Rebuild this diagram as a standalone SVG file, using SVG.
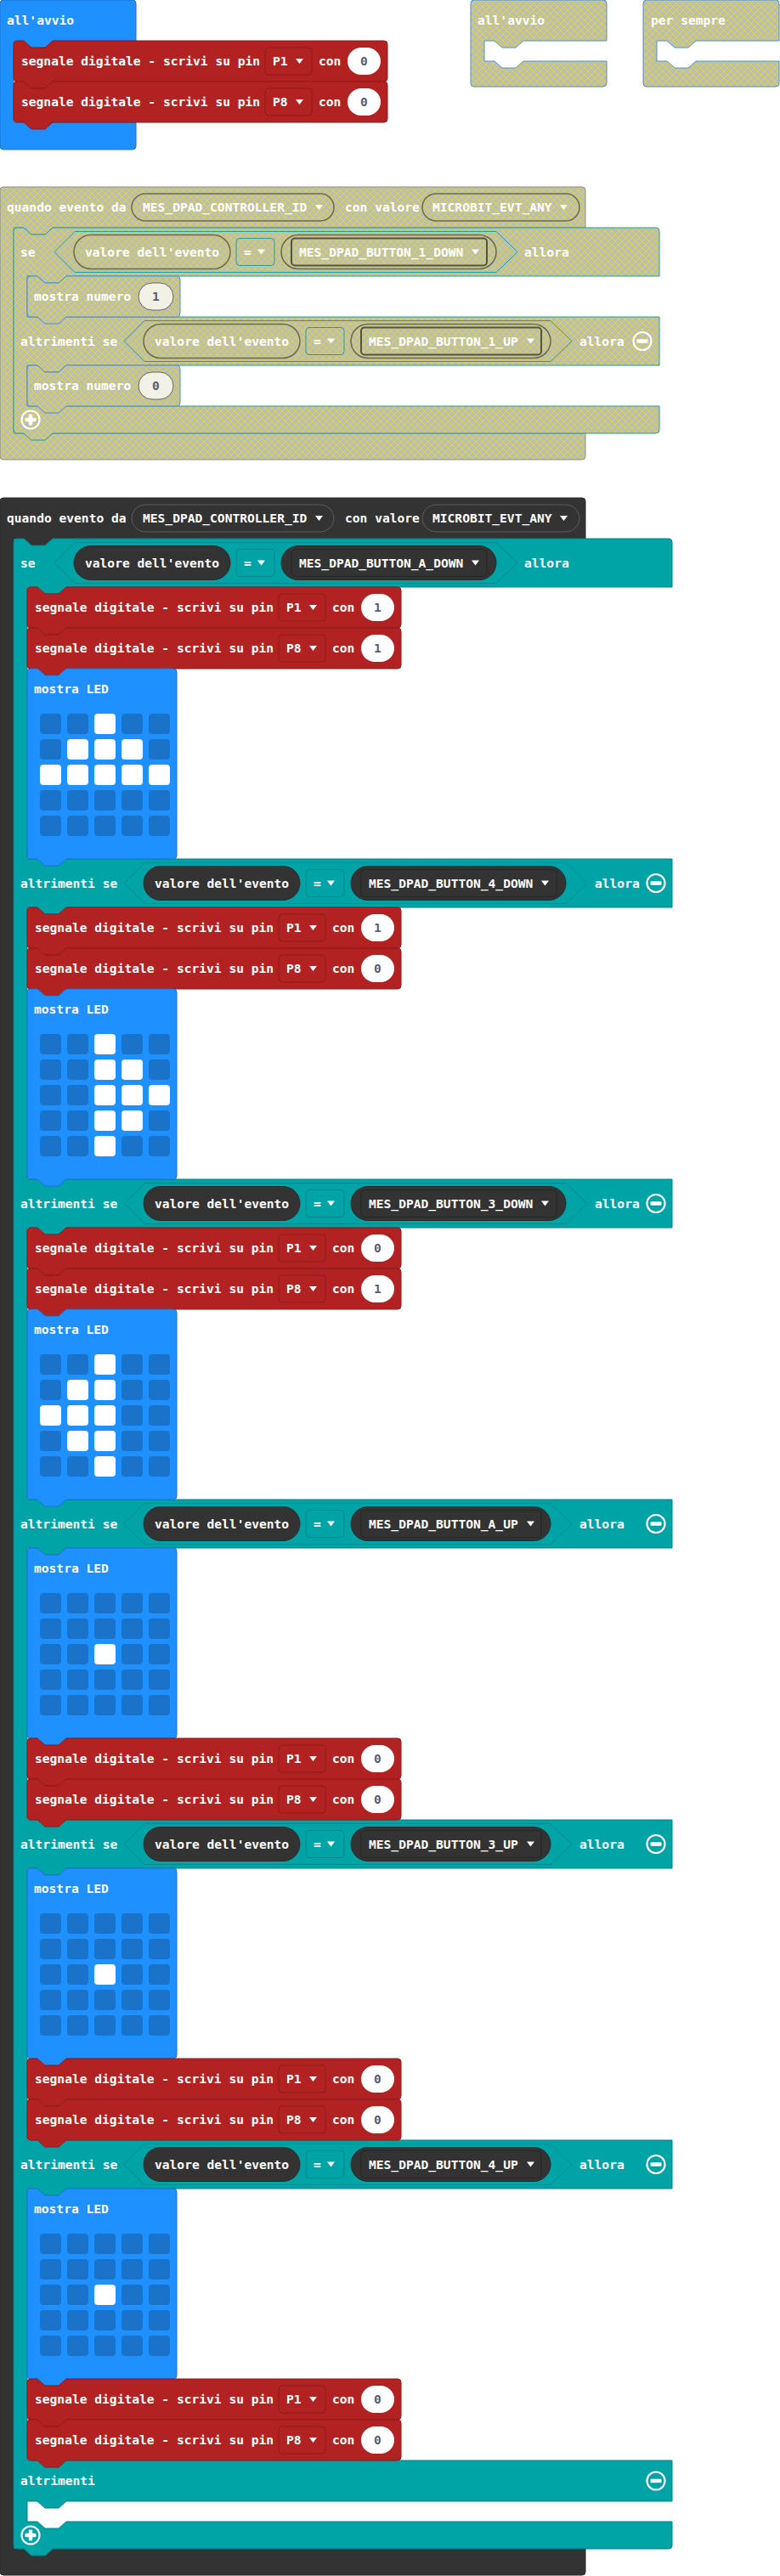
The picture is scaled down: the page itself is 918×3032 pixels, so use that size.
<svg xmlns="http://www.w3.org/2000/svg" xmlns:xlink="http://www.w3.org/1999/xlink" width="918" height="3032" viewBox="0 0 918 3032">
<style>
.t{font-family:"DejaVu Sans Mono","Liberation Mono",monospace;font-weight:bold;font-size:14.6px;fill:#fff}
.num{font-family:"DejaVu Sans Mono","Liberation Mono",monospace;font-weight:bold;font-size:14.6px;fill:#575e75;text-anchor:middle}
.hex{fill:#00a4a6;stroke:#008a8d;stroke-width:1}
.dpill{fill:#333;stroke:#2a2a2a}
.hpill{fill:#333;stroke:#5e5e5e}
.inner{fill:#333;stroke:#262626}
.eq{fill:#00a4a6;stroke:#00878a}
.rdd{fill:#b22222;stroke:#8e1b1b}
.oval{fill:#fff}
.off{fill:#1a72c9}
.on{fill:#fff}
.xhex{fill:url(#dis);stroke:#1a9e9e}
.xpill{fill:url(#dis);stroke:#6a6a4e;stroke-width:1.5}
.xinner{fill:url(#dis);stroke:#55553c;stroke-width:2}
.xeq{fill:url(#dis);stroke:#2a9a9a}
.xoval{fill:#f1f1e6;stroke:#666}
.arrow{fill:#fff}
</style>
<defs>
<pattern id="dis" width="8" height="8" patternUnits="userSpaceOnUse">
<rect width="8" height="8" fill="#bdbdb2"/>
<path d="M0,0 L8,8 M8,0 L0,8" stroke="#d8d83a" stroke-width="1"/>
</pattern>
<path id="redblk" d="M0,4 Q0,0 4,0 H12 l9,8 h16 l9,-8 H436 Q440,0 440,4 V44 Q440,48 436,48 H46 l-9,8 h-16 l-9,-8 H4 Q0,48 0,44 Z" fill="#b22222" stroke="#8e1b1b"/>
<path id="ledblk" d="M0,4 Q0,0 4,0 H12 l9,8 h16 l9,-8 H172 Q176,0 176,4 V220 Q176,224 172,224 H46 l-9,8 h-16 l-9,-8 H4 Q0,224 0,220 Z" fill="#1e90ff" stroke="#1873cc"/>
<path id="numblk" d="M0,4 Q0,0 4,0 H12 l9,8 h16 l9,-8 H176 Q180,0 180,4 V44 Q180,48 176,48 H46 l-9,8 h-16 l-9,-8 H4 Q0,48 0,44 Z" fill="url(#dis)" stroke="#4a8fd6"/>
<path id="arr" d="M0,0 h9 l-4.5,6 z" fill="#fff"/>
<g id="ledgrid" class="off">
<rect x="15" y="53" width="25" height="24" rx="4"/><rect x="47" y="53" width="25" height="24" rx="4"/><rect x="79" y="53" width="25" height="24" rx="4"/><rect x="111" y="53" width="25" height="24" rx="4"/><rect x="143" y="53" width="25" height="24" rx="4"/>
<rect x="15" y="83" width="25" height="24" rx="4"/><rect x="47" y="83" width="25" height="24" rx="4"/><rect x="79" y="83" width="25" height="24" rx="4"/><rect x="111" y="83" width="25" height="24" rx="4"/><rect x="143" y="83" width="25" height="24" rx="4"/>
<rect x="15" y="113" width="25" height="24" rx="4"/><rect x="47" y="113" width="25" height="24" rx="4"/><rect x="79" y="113" width="25" height="24" rx="4"/><rect x="111" y="113" width="25" height="24" rx="4"/><rect x="143" y="113" width="25" height="24" rx="4"/>
<rect x="15" y="143" width="25" height="24" rx="4"/><rect x="47" y="143" width="25" height="24" rx="4"/><rect x="79" y="143" width="25" height="24" rx="4"/><rect x="111" y="143" width="25" height="24" rx="4"/><rect x="143" y="143" width="25" height="24" rx="4"/>
<rect x="15" y="173" width="25" height="24" rx="4"/><rect x="47" y="173" width="25" height="24" rx="4"/><rect x="79" y="173" width="25" height="24" rx="4"/><rect x="111" y="173" width="25" height="24" rx="4"/><rect x="143" y="173" width="25" height="24" rx="4"/>
</g>
<g id="minus"><circle r="10.5" fill="none" stroke="#fff" stroke-width="2.2"/><rect x="-6.5" y="-2.2" width="13" height="4.4" rx="1" fill="#fff"/></g>
<g id="plus"><circle r="10.5" fill="none" stroke="#fff" stroke-width="2.2"/><rect x="-6.5" y="-2.2" width="13" height="4.4" rx="1" fill="#fff"/><rect x="-2.2" y="-6.5" width="4.4" height="13" rx="1" fill="#fff"/></g>
</defs>

<g id="connectors"></g>

<!-- all'avvio (enabled) -->
<g id="onstart">
<path d="M4,0 H156 Q160,0 160,4 V48 H62 l-9,8 h-16 l-9,-8 H16 V144 H160 V172 Q160,176 156,176 H4 Q0,176 0,172 V4 Q0,0 4,0 Z" fill="#1e90ff" stroke="#1873cc"/>
<text class="t" x="8" y="29">all'avvio</text>
<g id="onstart-pin1" transform="translate(16,48)">
<use href="#redblk"/>
<text class="t" x="9" y="29">segnale digitale - scrivi su pin</text>
<rect class="rdd" x="296" y="8" width="55" height="32" rx="4"/>
<text class="t" x="305" y="29">P1</text>
<use href="#arr" x="332" y="21"/>
<text class="t" x="359" y="29">con</text>
<rect class="oval" x="393" y="8" width="39" height="32" rx="16"/>
<text class="num" x="412.5" y="29">0</text>
</g>
<g id="onstart-pin8" transform="translate(16,96)">
<use href="#redblk"/>
<text class="t" x="9" y="29">segnale digitale - scrivi su pin</text>
<rect class="rdd" x="296" y="8" width="55" height="32" rx="4"/>
<text class="t" x="305" y="29">P8</text>
<use href="#arr" x="332" y="21"/>
<text class="t" x="359" y="29">con</text>
<rect class="oval" x="393" y="8" width="39" height="32" rx="16"/>
<text class="num" x="412.5" y="29">0</text>
</g>
</g>

<!-- disabled all'avvio -->
<g id="onstart-disabled">
<path d="M558,0 H710 Q714,0 714,4 V48 H616 l-9,8 h-16 l-9,-8 H570 V72 H582 l9,8 h16 l9,-8 H714 V98 Q714,102 710,102 H558 Q554,102 554,98 V4 Q554,0 558,0 Z" fill="url(#dis)" stroke="#4a8fd6"/>
<text class="t" x="562" y="29">all'avvio</text>
</g>

<!-- disabled per sempre -->
<g id="forever-disabled">
<path d="M761,0 H913 Q917,0 917,4 V48 H819 l-9,8 h-16 l-9,-8 H773 V72 H785 l9,8 h16 l9,-8 H917 V98 Q917,102 913,102 H761 Q757,102 757,98 V4 Q757,0 761,0 Z" fill="url(#dis)" stroke="#4a8fd6"/>
<text class="t" x="766" y="29">per sempre</text>
</g>

<!-- disabled event block -->
<g id="event-disabled">
<path d="M4,220 H685 Q689,220 689,224 V268 H62 l-9,8 h-16 l-9,-8 H16 V510 H689 V537 Q689,541 685,541 H4 Q0,541 0,537 V224 Q0,220 4,220 Z" fill="url(#dis)" stroke="#8c8c8c"/>
<text class="t" x="8" y="249">quando evento da</text>
<rect class="xpill" x="155" y="228" width="238" height="32" rx="16"/>
<text class="t" x="168" y="249">MES_DPAD_CONTROLLER_ID</text>
<use href="#arr" x="371" y="241"/>
<text class="t" x="406" y="249">con valore</text>
<rect class="xpill" x="497" y="228" width="185" height="32" rx="16"/>
<text class="t" x="509" y="249">MICROBIT_EVT_ANY</text>
<use href="#arr" x="659" y="241"/>
<g id="if-disabled">
<path d="M16,272 Q16,268 20,268 H28 l9,8 h16 l9,-8 H772 Q776,268 776,272 V325 H78 l-9,8 h-16 l-9,-8 H32 V373 H776 V430 H78 l-9,8 h-16 l-9,-8 H32 V478 H776 V506 Q776,510 772,510 H62 l-9,8 h-16 l-9,-8 H20 Q16,510 16,506 Z" fill="url(#dis)" stroke="#1a9e9e"/>
<g transform="translate(0,296.5)">
<text class="t" x="24" y="5">se</text>
<polygon class="xhex" points="64,0 88,-24 584,-24 609,0 584,24 88,24"/>
<rect class="xpill" x="87" y="-20" width="184" height="40" rx="20"/>
<text class="t" x="100" y="5">valore dell'evento</text>
<rect class="xeq" x="278" y="-16" width="45" height="32" rx="4"/>
<text class="t" x="287" y="5">=</text>
<use href="#arr" x="303" y="-3"/>
<rect class="xpill" x="331" y="-20" width="253" height="40" rx="20"/>
<rect class="xinner" x="343" y="-16" width="230" height="32" rx="4"/>
<text class="t" x="352" y="5">MES_DPAD_BUTTON_1_DOWN</text>
<use href="#arr" x="555" y="-3"/>
<text class="t" x="617" y="5">allora</text>
</g>
<g transform="translate(0,401.5)">
<text class="t" x="24" y="5">altrimenti se</text>
<polygon class="xhex" points="146,0 170,-24 648,-24 673,0 648,24 170,24"/>
<rect class="xpill" x="169" y="-20" width="184" height="40" rx="20"/>
<text class="t" x="182" y="5">valore dell'evento</text>
<rect class="xeq" x="360" y="-16" width="45" height="32" rx="4"/>
<text class="t" x="369" y="5">=</text>
<use href="#arr" x="385" y="-3"/>
<rect class="xpill" x="413" y="-20" width="235" height="40" rx="20"/>
<rect class="xinner" x="425" y="-16" width="212" height="32" rx="4"/>
<text class="t" x="434" y="5">MES_DPAD_BUTTON_1_UP</text>
<use href="#arr" x="620" y="-3"/>
<text class="t" x="682" y="5">allora</text>
<use href="#minus" x="756" y="0"/>
</g>
<use href="#plus" x="36" y="494"/>
<g id="shownum-1" transform="translate(32,325)">
<use href="#numblk"/>
<text class="t" x="8" y="29">mostra numero</text>
<rect class="xoval" x="131" y="8" width="41" height="32" rx="16"/>
<text class="num" x="151.5" y="29">1</text>
</g>
<g id="shownum-0" transform="translate(32,430)">
<use href="#numblk"/>
<text class="t" x="8" y="29">mostra numero</text>
<rect class="xoval" x="131" y="8" width="41" height="32" rx="16"/>
<text class="num" x="151.5" y="29">0</text>
</g>
</g>
</g>

<!-- main event block -->
<g id="event-main">
<path d="M4,586 H685 Q689,586 689,590 V634 H62 l-9,8 h-16 l-9,-8 H16 V3000 H689 V3027 Q689,3031 685,3031 H4 Q0,3031 0,3027 V590 Q0,586 4,586 Z" fill="#333333" stroke="#2a2a2a"/>
<text class="t" x="8" y="615">quando evento da</text>
<rect class="hpill" x="155" y="594" width="238" height="32" rx="16"/>
<text class="t" x="168" y="615">MES_DPAD_CONTROLLER_ID</text>
<use href="#arr" x="371" y="607"/>
<text class="t" x="406" y="615">con valore</text>
<rect class="hpill" x="497" y="594" width="185" height="32" rx="16"/>
<text class="t" x="509" y="615">MICROBIT_EVT_ANY</text>
<use href="#arr" x="659" y="607"/>

<g id="if-main">
<path d="M16,638 Q16,634 20,634 H28 l9,8 h16 l9,-8 H787 Q791,634 791,638 V691 H78 l-9,8 h-16 l-9,-8 H32 V1011 H791 V1068 H78 l-9,8 h-16 l-9,-8 H32 V1388 H791 V1445 H78 l-9,8 h-16 l-9,-8 H32 V1765 H791 V1822 H78 l-9,8 h-16 l-9,-8 H32 V2142 H791 V2199 H78 l-9,8 h-16 l-9,-8 H32 V2519 H791 V2576 H78 l-9,8 h-16 l-9,-8 H32 V2896 H791 V2944 H78 l-9,8 h-16 l-9,-8 H32 V2968 H44 l9,8 h16 l9,-8 H791 V2996 Q791,3000 787,3000 H62 l-9,8 h-16 l-9,-8 H20 Q16,3000 16,2996 Z" fill="#00a4a6" stroke="#008386"/>

<g id="row-a-down" transform="translate(0,662.5)">
<text class="t" x="24" y="5">se</text>
<polygon class="hex" points="64,0 88,-24 584,-24 609,0 584,24 88,24"/>
<rect class="dpill" x="87" y="-20" width="184" height="40" rx="20"/>
<text class="t" x="100" y="5">valore dell'evento</text>
<rect class="eq" x="278" y="-16" width="45" height="32" rx="4"/>
<text class="t" x="287" y="5">=</text>
<use href="#arr" x="303" y="-3"/>
<rect class="dpill" x="331" y="-20" width="253" height="40" rx="20"/>
<rect class="inner" x="343" y="-16" width="230" height="32" rx="4"/>
<text class="t" x="352" y="5">MES_DPAD_BUTTON_A_DOWN</text>
<use href="#arr" x="555" y="-3"/>
<text class="t" x="617" y="5">allora</text>
</g>

<g id="row-4-down" transform="translate(0,1039.5)">
<text class="t" x="24" y="5">altrimenti se</text>
<polygon class="hex" points="146,0 170,-24 666,-24 691,0 666,24 170,24"/>
<rect class="dpill" x="169" y="-20" width="184" height="40" rx="20"/>
<text class="t" x="182" y="5">valore dell'evento</text>
<rect class="eq" x="360" y="-16" width="45" height="32" rx="4"/>
<text class="t" x="369" y="5">=</text>
<use href="#arr" x="385" y="-3"/>
<rect class="dpill" x="413" y="-20" width="253" height="40" rx="20"/>
<rect class="inner" x="425" y="-16" width="230" height="32" rx="4"/>
<text class="t" x="434" y="5">MES_DPAD_BUTTON_4_DOWN</text>
<use href="#arr" x="637" y="-3"/>
<text class="t" x="700" y="5">allora</text>
<use href="#minus" x="772" y="0"/>
</g>

<g id="row-3-down" transform="translate(0,1416.5)">
<text class="t" x="24" y="5">altrimenti se</text>
<polygon class="hex" points="146,0 170,-24 666,-24 691,0 666,24 170,24"/>
<rect class="dpill" x="169" y="-20" width="184" height="40" rx="20"/>
<text class="t" x="182" y="5">valore dell'evento</text>
<rect class="eq" x="360" y="-16" width="45" height="32" rx="4"/>
<text class="t" x="369" y="5">=</text>
<use href="#arr" x="385" y="-3"/>
<rect class="dpill" x="413" y="-20" width="253" height="40" rx="20"/>
<rect class="inner" x="425" y="-16" width="230" height="32" rx="4"/>
<text class="t" x="434" y="5">MES_DPAD_BUTTON_3_DOWN</text>
<use href="#arr" x="637" y="-3"/>
<text class="t" x="700" y="5">allora</text>
<use href="#minus" x="772" y="0"/>
</g>

<g id="row-a-up" transform="translate(0,1793.5)">
<text class="t" x="24" y="5">altrimenti se</text>
<polygon class="hex" points="146,0 170,-24 648,-24 673,0 648,24 170,24"/>
<rect class="dpill" x="169" y="-20" width="184" height="40" rx="20"/>
<text class="t" x="182" y="5">valore dell'evento</text>
<rect class="eq" x="360" y="-16" width="45" height="32" rx="4"/>
<text class="t" x="369" y="5">=</text>
<use href="#arr" x="385" y="-3"/>
<rect class="dpill" x="413" y="-20" width="235" height="40" rx="20"/>
<rect class="inner" x="425" y="-16" width="212" height="32" rx="4"/>
<text class="t" x="434" y="5">MES_DPAD_BUTTON_A_UP</text>
<use href="#arr" x="620" y="-3"/>
<text class="t" x="682" y="5">allora</text>
<use href="#minus" x="772" y="0"/>
</g>

<g id="row-3-up" transform="translate(0,2170.5)">
<text class="t" x="24" y="5">altrimenti se</text>
<polygon class="hex" points="146,0 170,-24 648,-24 673,0 648,24 170,24"/>
<rect class="dpill" x="169" y="-20" width="184" height="40" rx="20"/>
<text class="t" x="182" y="5">valore dell'evento</text>
<rect class="eq" x="360" y="-16" width="45" height="32" rx="4"/>
<text class="t" x="369" y="5">=</text>
<use href="#arr" x="385" y="-3"/>
<rect class="dpill" x="413" y="-20" width="235" height="40" rx="20"/>
<rect class="inner" x="425" y="-16" width="212" height="32" rx="4"/>
<text class="t" x="434" y="5">MES_DPAD_BUTTON_3_UP</text>
<use href="#arr" x="620" y="-3"/>
<text class="t" x="682" y="5">allora</text>
<use href="#minus" x="772" y="0"/>
</g>

<g id="row-4-up" transform="translate(0,2547.5)">
<text class="t" x="24" y="5">altrimenti se</text>
<polygon class="hex" points="146,0 170,-24 648,-24 673,0 648,24 170,24"/>
<rect class="dpill" x="169" y="-20" width="184" height="40" rx="20"/>
<text class="t" x="182" y="5">valore dell'evento</text>
<rect class="eq" x="360" y="-16" width="45" height="32" rx="4"/>
<text class="t" x="369" y="5">=</text>
<use href="#arr" x="385" y="-3"/>
<rect class="dpill" x="413" y="-20" width="235" height="40" rx="20"/>
<rect class="inner" x="425" y="-16" width="212" height="32" rx="4"/>
<text class="t" x="434" y="5">MES_DPAD_BUTTON_4_UP</text>
<use href="#arr" x="620" y="-3"/>
<text class="t" x="682" y="5">allora</text>
<use href="#minus" x="772" y="0"/>
</g>

<g id="row-else" transform="translate(0,2920)">
<text class="t" x="24" y="5">altrimenti</text>
<use href="#minus" x="772" y="0"/>
</g>
<use href="#plus" x="36" y="2984"/>

<!-- branch A_DOWN -->
<g id="a-down-p1" transform="translate(32,691)">
<use href="#redblk"/><text class="t" x="9" y="29">segnale digitale - scrivi su pin</text>
<rect class="rdd" x="296" y="8" width="55" height="32" rx="4"/><text class="t" x="305" y="29">P1</text><use href="#arr" x="332" y="21"/>
<text class="t" x="359" y="29">con</text><rect class="oval" x="393" y="8" width="39" height="32" rx="16"/><text class="num" x="412.5" y="29">1</text>
</g>
<g id="a-down-p8" transform="translate(32,739)">
<use href="#redblk"/><text class="t" x="9" y="29">segnale digitale - scrivi su pin</text>
<rect class="rdd" x="296" y="8" width="55" height="32" rx="4"/><text class="t" x="305" y="29">P8</text><use href="#arr" x="332" y="21"/>
<text class="t" x="359" y="29">con</text><rect class="oval" x="393" y="8" width="39" height="32" rx="16"/><text class="num" x="412.5" y="29">1</text>
</g>
<g id="a-down-led" transform="translate(32,787)">
<use href="#ledblk"/><text class="t" x="8" y="29">mostra LED</text><use href="#ledgrid"/>
<rect class="on" x="79" y="53" width="25" height="24" rx="4"/>
<rect class="on" x="47" y="83" width="25" height="24" rx="4"/><rect class="on" x="79" y="83" width="25" height="24" rx="4"/><rect class="on" x="111" y="83" width="25" height="24" rx="4"/>
<rect class="on" x="15" y="113" width="25" height="24" rx="4"/><rect class="on" x="47" y="113" width="25" height="24" rx="4"/><rect class="on" x="79" y="113" width="25" height="24" rx="4"/><rect class="on" x="111" y="113" width="25" height="24" rx="4"/><rect class="on" x="143" y="113" width="25" height="24" rx="4"/>
</g>

<!-- branch 4_DOWN -->
<g id="d4-down-p1" transform="translate(32,1068)">
<use href="#redblk"/><text class="t" x="9" y="29">segnale digitale - scrivi su pin</text>
<rect class="rdd" x="296" y="8" width="55" height="32" rx="4"/><text class="t" x="305" y="29">P1</text><use href="#arr" x="332" y="21"/>
<text class="t" x="359" y="29">con</text><rect class="oval" x="393" y="8" width="39" height="32" rx="16"/><text class="num" x="412.5" y="29">1</text>
</g>
<g id="d4-down-p8" transform="translate(32,1116)">
<use href="#redblk"/><text class="t" x="9" y="29">segnale digitale - scrivi su pin</text>
<rect class="rdd" x="296" y="8" width="55" height="32" rx="4"/><text class="t" x="305" y="29">P8</text><use href="#arr" x="332" y="21"/>
<text class="t" x="359" y="29">con</text><rect class="oval" x="393" y="8" width="39" height="32" rx="16"/><text class="num" x="412.5" y="29">0</text>
</g>
<g id="d4-down-led" transform="translate(32,1164)">
<use href="#ledblk"/><text class="t" x="8" y="29">mostra LED</text><use href="#ledgrid"/>
<rect class="on" x="79" y="53" width="25" height="24" rx="4"/>
<rect class="on" x="79" y="83" width="25" height="24" rx="4"/><rect class="on" x="111" y="83" width="25" height="24" rx="4"/>
<rect class="on" x="79" y="113" width="25" height="24" rx="4"/><rect class="on" x="111" y="113" width="25" height="24" rx="4"/><rect class="on" x="143" y="113" width="25" height="24" rx="4"/>
<rect class="on" x="79" y="143" width="25" height="24" rx="4"/><rect class="on" x="111" y="143" width="25" height="24" rx="4"/>
<rect class="on" x="79" y="173" width="25" height="24" rx="4"/>
</g>

<!-- branch 3_DOWN -->
<g id="d3-down-p1" transform="translate(32,1445)">
<use href="#redblk"/><text class="t" x="9" y="29">segnale digitale - scrivi su pin</text>
<rect class="rdd" x="296" y="8" width="55" height="32" rx="4"/><text class="t" x="305" y="29">P1</text><use href="#arr" x="332" y="21"/>
<text class="t" x="359" y="29">con</text><rect class="oval" x="393" y="8" width="39" height="32" rx="16"/><text class="num" x="412.5" y="29">0</text>
</g>
<g id="d3-down-p8" transform="translate(32,1493)">
<use href="#redblk"/><text class="t" x="9" y="29">segnale digitale - scrivi su pin</text>
<rect class="rdd" x="296" y="8" width="55" height="32" rx="4"/><text class="t" x="305" y="29">P8</text><use href="#arr" x="332" y="21"/>
<text class="t" x="359" y="29">con</text><rect class="oval" x="393" y="8" width="39" height="32" rx="16"/><text class="num" x="412.5" y="29">1</text>
</g>
<g id="d3-down-led" transform="translate(32,1541)">
<use href="#ledblk"/><text class="t" x="8" y="29">mostra LED</text><use href="#ledgrid"/>
<rect class="on" x="79" y="53" width="25" height="24" rx="4"/>
<rect class="on" x="47" y="83" width="25" height="24" rx="4"/><rect class="on" x="79" y="83" width="25" height="24" rx="4"/>
<rect class="on" x="15" y="113" width="25" height="24" rx="4"/><rect class="on" x="47" y="113" width="25" height="24" rx="4"/><rect class="on" x="79" y="113" width="25" height="24" rx="4"/>
<rect class="on" x="47" y="143" width="25" height="24" rx="4"/><rect class="on" x="79" y="143" width="25" height="24" rx="4"/>
<rect class="on" x="79" y="173" width="25" height="24" rx="4"/>
</g>

<!-- branch A_UP -->
<g id="a-up-led" transform="translate(32,1822)">
<use href="#ledblk"/><text class="t" x="8" y="29">mostra LED</text><use href="#ledgrid"/>
<rect class="on" x="79" y="113" width="25" height="24" rx="4"/>
</g>
<g id="a-up-p1" transform="translate(32,2046)">
<use href="#redblk"/><text class="t" x="9" y="29">segnale digitale - scrivi su pin</text>
<rect class="rdd" x="296" y="8" width="55" height="32" rx="4"/><text class="t" x="305" y="29">P1</text><use href="#arr" x="332" y="21"/>
<text class="t" x="359" y="29">con</text><rect class="oval" x="393" y="8" width="39" height="32" rx="16"/><text class="num" x="412.5" y="29">0</text>
</g>
<g id="a-up-p8" transform="translate(32,2094)">
<use href="#redblk"/><text class="t" x="9" y="29">segnale digitale - scrivi su pin</text>
<rect class="rdd" x="296" y="8" width="55" height="32" rx="4"/><text class="t" x="305" y="29">P8</text><use href="#arr" x="332" y="21"/>
<text class="t" x="359" y="29">con</text><rect class="oval" x="393" y="8" width="39" height="32" rx="16"/><text class="num" x="412.5" y="29">0</text>
</g>

<!-- branch 3_UP -->
<g id="d3-up-led" transform="translate(32,2199)">
<use href="#ledblk"/><text class="t" x="8" y="29">mostra LED</text><use href="#ledgrid"/>
<rect class="on" x="79" y="113" width="25" height="24" rx="4"/>
</g>
<g id="d3-up-p1" transform="translate(32,2423)">
<use href="#redblk"/><text class="t" x="9" y="29">segnale digitale - scrivi su pin</text>
<rect class="rdd" x="296" y="8" width="55" height="32" rx="4"/><text class="t" x="305" y="29">P1</text><use href="#arr" x="332" y="21"/>
<text class="t" x="359" y="29">con</text><rect class="oval" x="393" y="8" width="39" height="32" rx="16"/><text class="num" x="412.5" y="29">0</text>
</g>
<g id="d3-up-p8" transform="translate(32,2471)">
<use href="#redblk"/><text class="t" x="9" y="29">segnale digitale - scrivi su pin</text>
<rect class="rdd" x="296" y="8" width="55" height="32" rx="4"/><text class="t" x="305" y="29">P8</text><use href="#arr" x="332" y="21"/>
<text class="t" x="359" y="29">con</text><rect class="oval" x="393" y="8" width="39" height="32" rx="16"/><text class="num" x="412.5" y="29">0</text>
</g>

<!-- branch 4_UP -->
<g id="d4-up-led" transform="translate(32,2576)">
<use href="#ledblk"/><text class="t" x="8" y="29">mostra LED</text><use href="#ledgrid"/>
<rect class="on" x="79" y="113" width="25" height="24" rx="4"/>
</g>
<g id="d4-up-p1" transform="translate(32,2800)">
<use href="#redblk"/><text class="t" x="9" y="29">segnale digitale - scrivi su pin</text>
<rect class="rdd" x="296" y="8" width="55" height="32" rx="4"/><text class="t" x="305" y="29">P1</text><use href="#arr" x="332" y="21"/>
<text class="t" x="359" y="29">con</text><rect class="oval" x="393" y="8" width="39" height="32" rx="16"/><text class="num" x="412.5" y="29">0</text>
</g>
<g id="d4-up-p8" transform="translate(32,2848)">
<use href="#redblk"/><text class="t" x="9" y="29">segnale digitale - scrivi su pin</text>
<rect class="rdd" x="296" y="8" width="55" height="32" rx="4"/><text class="t" x="305" y="29">P8</text><use href="#arr" x="332" y="21"/>
<text class="t" x="359" y="29">con</text><rect class="oval" x="393" y="8" width="39" height="32" rx="16"/><text class="num" x="412.5" y="29">0</text>
</g>
</g>
</g>
</svg>
